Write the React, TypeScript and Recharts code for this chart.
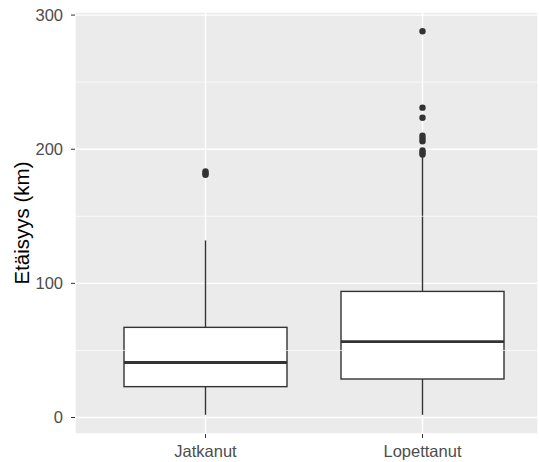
import { ComposedChart, Bar, Scatter, XAxis, YAxis, CartesianGrid, ReferenceLine } from 'recharts';

// Box plot summary per group (values in km)
const categories = ['Jatkanut', 'Lopettanut'];
const whiskerLow = [2, 2];
const lowerQuartile = [23, 28.7];
const medians = [41, 56.5];
const upperQuartile = [67.2, 94];
const whiskerHigh = [132, 195];

const outliersJatkanut = [181, 182, 183.5];
const outliersLopettanut = [196, 197.5, 199, 206, 208, 210, 223.5, 231, 288];

const yTicks = [0, 100, 200, 300];
const minorTicks = [50, 150, 250];

const boxData = categories.map((name, i) => ({
  name,
  box: [lowerQuartile[i], upperQuartile[i]],
  lo: whiskerLow[i],
  q1: lowerQuartile[i],
  med: medians[i],
  q3: upperQuartile[i],
  hi: whiskerHigh[i],
}));

const outlierData = [
  ...outliersJatkanut.map((value) => ({ name: categories[0], value })),
  ...outliersLopettanut.map((value) => ({ name: categories[1], value })),
];

const ink = '#333333';
const font = '"Liberation Sans", Arial, sans-serif';

// draws box, median and whiskers, using the bar's own pixel scale
const BoxShape = (props: any) => {
  const { x, y, width, height, payload } = props;
  const top = Math.min(y, y + height);
  const h = Math.abs(height);
  const ppu = h / (payload.q3 - payload.q1);
  const yOf = (v: number) => top + (payload.q3 - v) * ppu;
  const cx = x + width / 2;
  return (
    <g>
      <line x1={cx} x2={cx} y1={yOf(payload.hi)} y2={yOf(payload.q3)} stroke={ink} strokeWidth={1.4} />
      <line x1={cx} x2={cx} y1={yOf(payload.q1)} y2={yOf(payload.lo)} stroke={ink} strokeWidth={1.4} />
      <rect x={x} y={top} width={width} height={h} fill="#fff" stroke={ink} strokeWidth={1.4} />
      <line x1={x} x2={x + width} y1={yOf(payload.med)} y2={yOf(payload.med)} stroke={ink} strokeWidth={2.8} />
    </g>
  );
};

const YTitle = (props: any) => {
  const vb = props.viewBox;
  const cy = vb.y + vb.height / 2;
  return (
    <text
      x={29}
      y={cy}
      transform={`rotate(-90 29 ${cy})`}
      textAnchor="middle"
      fontSize={20.5}
      fontFamily={font}
      fill="#000"
    >
      Etäisyys (km)
    </text>
  );
};

export default function App() {
  return (
    <div style={{ position: 'absolute', left: 0, top: 0, background: '#fff' }}>
      <ComposedChart
        width={539}
        height={462}
        data={boxData}
        margin={{ top: 12, right: 1, bottom: 0, left: 0 }}
      >
        <CartesianGrid fill="#EBEBEB" stroke="#fff" strokeWidth={1.4} />
        {minorTicks.map((v) => (
          <ReferenceLine key={v} y={v} stroke="#fff" strokeWidth={0.7} />
        ))}
        <XAxis
          dataKey="name"
          type="category"
          allowDuplicatedCategory={false}
          padding={{ left: 22, right: 7 }}
          height={28}
          axisLine={false}
          tickLine={{ stroke: ink }}
          tickSize={4}
          tickMargin={7}
          tick={{ fontSize: 16.5, fill: '#4D4D4D', fontFamily: font }}
        />
        <YAxis
          type="number"
          domain={[-12.3, 302.3]}
          ticks={yTicks}
          width={75}
          axisLine={false}
          tickLine={{ stroke: ink }}
          tickSize={4}
          tickMargin={8}
          tick={{ fontSize: 16.5, fill: '#4D4D4D', fontFamily: font }}
          label={{ content: YTitle }}
        />
        <Bar dataKey="box" barSize={163} shape={BoxShape} isAnimationActive={false} />
        <Scatter
          data={outlierData}
          dataKey="value"
          fill={ink}
          shape={(p: any) => <circle cx={p.cx} cy={p.cy} r={3.2} fill={ink} />}
          isAnimationActive={false}
        />
      </ComposedChart>
    </div>
  );
}
